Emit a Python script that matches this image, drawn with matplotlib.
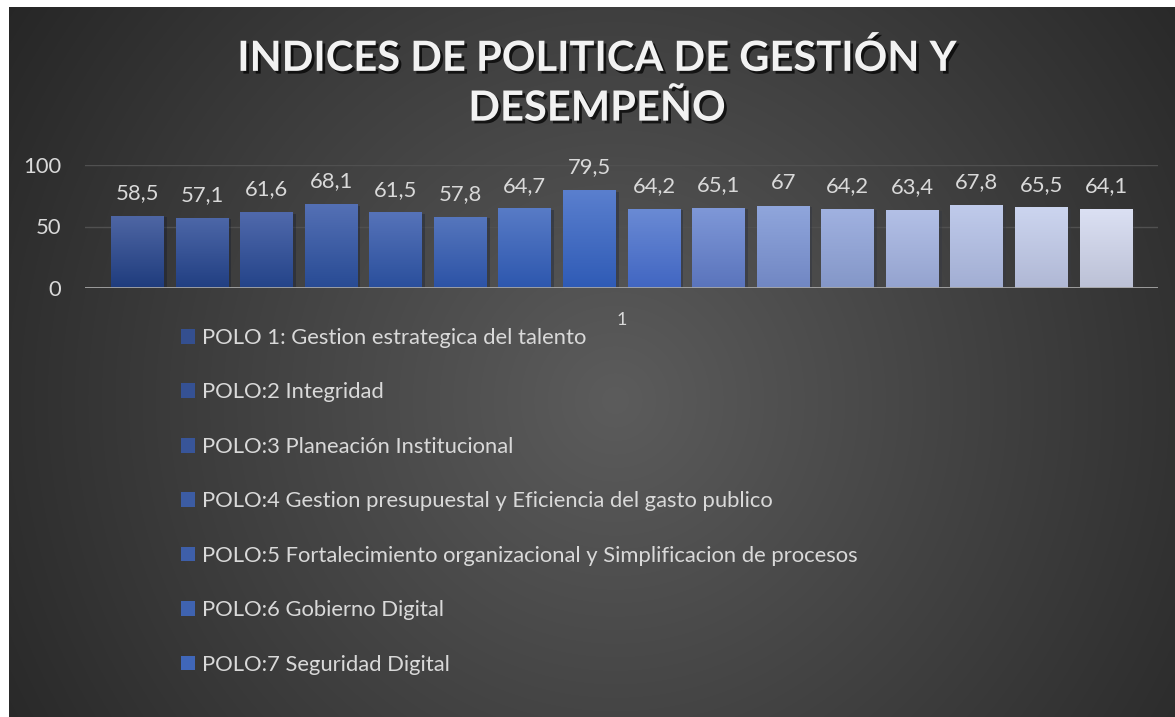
import numpy as np
import matplotlib
matplotlib.use("Agg")
import matplotlib.pyplot as plt
import matplotlib.patheffects as pe
from matplotlib.colors import LinearSegmentedColormap, to_rgb

# ---------------- data ----------------
values = [58.5, 57.1, 61.6, 68.1, 61.5, 57.8, 64.7, 79.5,
          64.2, 65.1, 67, 64.2, 63.4, 67.8, 65.5, 64.1]
value_labels = ["58,5", "57,1", "61,6", "68,1", "61,5", "57,8", "64,7", "79,5",
                "64,2", "65,1", "67", "64,2", "63,4", "67,8", "65,5", "64,1"]
legend_labels = [
    "POLO 1: Gestion estrategica del talento",
    "POLO:2 Integridad",
    "POLO:3 Planeación Institucional",
    "POLO:4 Gestion presupuestal y Eficiencia del gasto publico",
    "POLO:5 Fortalecimiento organizacional y Simplificacion de procesos",
    "POLO:6 Gobierno Digital",
    "POLO:7 Seguridad Digital",
]
category_labels = ["1"]
yticks = [0, 50, 100]
title = "INDICES DE POLITICA DE GESTIÓN Y\nDESEMPEÑO"

# ---------------- style ----------------
tops = ['#4e66a4', '#4d67a8', '#5069ac', '#5470b5', '#5673b9', '#5676bd', '#587bc6', '#5a7fce',
        '#6a8ad4', '#7f98d8', '#90a6dc', '#a0b1e0', '#b3c0e6', '#c0cbeb', '#ccd5ef', '#dbe0f3']
bottoms = ['#1f3c7d', '#213f82', '#244489', '#284b94', '#2a4f9c', '#2c53a6', '#2d57ae', '#2f5bb6',
           '#4166c2', '#5a74bc', '#7187c3', '#8497c8', '#94a3cf', '#a2aed3', '#b0b8d5', '#bcc1d6']
FONT = ["Lato", "DejaVu Sans"]
plt.rcParams['font.family'] = FONT
TXT = '#d9d9d9'
FS = 15.8

W, H = 1175, 717
fig = plt.figure(figsize=(W / 100, H / 100), dpi=100, facecolor='white')

# background radial gradient
bg = fig.add_axes([9 / W, 0, 1 - 9 / W, (H - 7) / H])
bg.set_axis_off()
bw, bh = W - 9, H - 7
yy, xx = np.mgrid[0:bh, 0:bw]
d = np.hypot(xx + 9 - 615, yy + 7 - 400)
v = np.clip(92 - 0.074 * d, 36, 92) / 255.0
img = np.dstack([v, v, v])
bg.imshow(img, extent=[0, 1, 0, 1], aspect='auto', origin='upper')
bg.set_xlim(0, 1)
bg.set_ylim(0, 1)

# main axes (pixel layout)
x0, x1 = 85, 1158
y0px, y100px = 288, 165
ax = fig.add_axes([x0 / W, (H - y0px) / H, (x1 - x0) / W, (y0px - y100px) / H])
ax.patch.set_alpha(0)

n = len(values)
xpos = np.arange(n)
spacing = 64.6
bw_frac = 53 / spacing

mids = []
for t, b in zip(tops, bottoms):
    ct, cb = np.array(to_rgb(t)), np.array(to_rgb(b))
    mids.append(tuple(0.45 * ct + 0.55 * cb))

bars = ax.bar(xpos, values, width=bw_frac, color=mids, zorder=3)
for rect, t, b in zip(bars, tops, bottoms):
    rect.set_path_effects([pe.SimplePatchShadow(offset=(2, -1), alpha=0.35), pe.Normal()])
    cmap = LinearSegmentedColormap.from_list('g', [b, t])
    grad = np.linspace(0, 1, 100).reshape(-1, 1)
    xl, yl = rect.get_x(), rect.get_y()
    im = ax.imshow(grad, cmap=cmap, aspect='auto', origin='lower',
                   extent=[xl, xl + rect.get_width(), yl, yl + rect.get_height()], zorder=4)
    im.set_clip_path(rect)

for rect, lab in zip(bars, value_labels):
    ax.annotate(lab, (rect.get_x() + rect.get_width() / 2, rect.get_height()),
                xytext=(0, 12), textcoords='offset points', ha='center', va='baseline',
                color=TXT, fontsize=FS, zorder=6)

ax.set_xlim(-(137.5 - x0) / spacing, (n - 1) + (x1 - 1106) / spacing)
ax.set_ylim(0, 100)

for s in ax.spines.values():
    s.set_visible(False)
ax.set_yticks(yticks)
ax.set_yticklabels([str(t) for t in yticks], color=TXT, fontsize=FS)
ax.tick_params(axis='y', length=0, pad=17)
ax.set_xticks([(n - 1) / 2])
ax.set_xticklabels(category_labels, color=TXT, fontsize=13)
ax.tick_params(axis='x', length=0, pad=17)
for yv in yticks[1:]:
    ax.axhline(yv, color='#505050', lw=1.0, zorder=1)
ax.axhline(0, color='#a6a6a6', lw=2.0, zorder=5)

# legend (only first entries are visible in the original)
leg = fig.legend(bars[:len(legend_labels)], legend_labels, loc='upper left',
                 bbox_to_anchor=(181 / W, 1 - 328 / H), frameon=False,
                 fontsize=FS, labelcolor=TXT, handlelength=0.65, handleheight=0.65,
                 handletextpad=0.3, labelspacing=1.57, borderpad=0, borderaxespad=0)
for h in leg.legend_handles:
    h.set_path_effects([])

fig.text(597 / W, 1 - 83 / H, title, ha='center', va='center', color='#f2f2f2',
         fontsize=30, fontweight='bold', linespacing=1.38,
         path_effects=[pe.withSimplePatchShadow(offset=(2, -2), alpha=0.7, shadow_rgbFace='black')])

fig.savefig('out.png', dpi=100, facecolor='white')
